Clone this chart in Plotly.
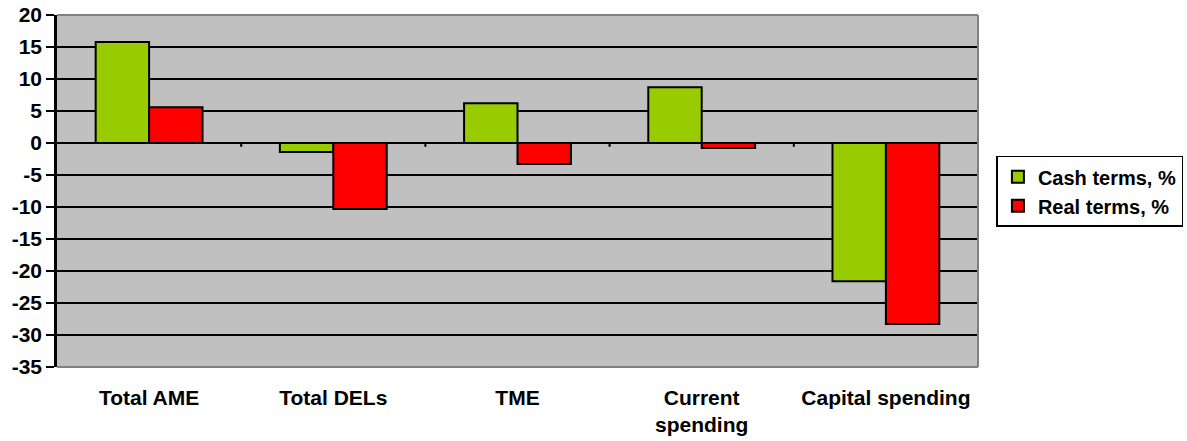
import plotly.graph_objects as go

categories = ["Total AME", "Total DELs", "TME", "Current<br>spending", "Capital spending"]
cash_terms = [15.8, -1.4, 6.2, 8.7, -21.6]
real_terms = [5.6, -10.3, -3.3, -0.8, -28.3]
y_ticks = list(range(-35, 25, 5))
y_tick_labels = [str(v) for v in y_ticks]

FONT = "Liberation Sans, Arial, sans-serif"
xs = list(range(len(categories)))

fig = go.Figure()
fig.add_trace(go.Bar(x=xs, y=cash_terms, name="Cash terms, %",
                     marker=dict(color="#99CC00", line=dict(color="black", width=2))))
fig.add_trace(go.Bar(x=xs, y=real_terms, name="Real terms, %",
                     marker=dict(color="#FF0000", line=dict(color="black", width=2))))

# category boundary tick marks at the zero line
for i in range(1, len(categories)):
    fig.add_shape(type="line", xref="x", yref="y", x0=i - 0.5, x1=i - 0.5, y0=0, y1=-0.6,
                  line=dict(color="black", width=2), layer="above")

# grey frame on top, right, bottom
for (x0, y0, x1, y1) in [(0, 1, 1, 1), (1, 0, 1, 1), (0, 0, 1, 0)]:
    fig.add_shape(type="line", xref="paper", yref="paper", x0=x0, y0=y0, x1=x1, y1=y1,
                  line=dict(color="#808080", width=2), layer="above")

bold = dict(family=FONT, size=21, color="black", weight="bold")
legend_font = dict(family=FONT, size=20, color="black", weight="bold")

fig.update_layout(
    width=1187, height=441,
    margin=dict(l=57, r=209, t=15, b=74, autoexpand=False),
    paper_bgcolor="white", plot_bgcolor="#C0C0C0",
    barmode="group", bargap=0.42, bargroupgap=0,
    font=bold,
    legend=dict(x=1.020, y=0.60, xanchor="left", yanchor="top",
                bordercolor="black", borderwidth=1.5, bgcolor="white",
                font=legend_font, tracegroupgap=0, itemwidth=30),
    xaxis=dict(range=[-0.5, len(categories) - 0.5], tickvals=xs,
               ticktext=categories, automargin=False,
               showgrid=False, zeroline=False, showline=False, ticks="",
               ticklabelstandoff=16, tickfont=bold),
    yaxis=dict(range=[-35, 20], tickvals=y_ticks, ticktext=y_tick_labels,
               automargin=False,
               showgrid=True, gridcolor="black", gridwidth=2,
               zeroline=True, zerolinecolor="black", zerolinewidth=2,
               showline=True, linecolor="black", linewidth=2.5,
               ticks="outside", ticklen=8, tickwidth=2, tickcolor="black",
               tickfont=bold),
)

fig.write_html("out.html", config={"displayModeBar": False},
               post_script="document.body.style.margin='0';")
